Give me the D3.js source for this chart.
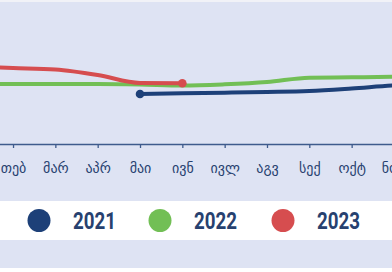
<!DOCTYPE html>
<html>
<head>
<meta charset="utf-8">
<script src="https://cdn.jsdelivr.net/npm/d3@7"></script>
<style>
  body { margin: 0; background: #fff; }
  svg { display: block; }
</style>
</head>
<body>
<svg></svg>
<script>
// chart data
const months = ['იან', 'თებ', 'მარ', 'აპრ', 'მაი', 'ივნ', 'ივლ', 'აგვ', 'სექ', 'ოქტ', 'ნოე', 'დეკ'];
const years = ['2021', '2022', '2023'];
const colors = ['#1d4078', '#72bf55', '#d64d4f'];

const vals2021 = [null, null, null, null, 2.5, 2.535, 2.565, 2.6, 2.65, 2.775, 2.925, 3.0];
const vals2022 = [3.0, 3.0, 3.0, 3.0, 2.975, 2.925, 2.985, 3.1, 3.315, 3.335, 3.365, 3.375];
const vals2023 = [3.875, 3.8, 3.725, 3.45, 3.05, 3.035, null, null, null, null, null, null];
const series = [vals2021, vals2022, vals2023];

const width = 392,
      height = 272;

const svg = d3.select('svg')
              .attr('width', width)
              .attr('height', height);

// backgrounds
svg.append('rect').attr('width', width).attr('height', height).attr('fill', '#dee3f3');
svg.append('rect').attr('width', width).attr('height', 2).attr('fill', '#f1f2f7');
svg.append('rect').attr('y', 201).attr('width', width).attr('height', 39).attr('fill', '#fff');
svg.append('rect').attr('y', 268).attr('width', width).attr('height', 4).attr('fill', '#fff');

// scales (view is a crop of the full year)
const x = d3.scalePoint()
            .domain(months)
            .range([-29.3, 436.3]);

const y = d3.scaleLinear()
            .domain([0, 7])
            .range([144, 4]);

// x axis
const xAxis = d3.axisBottom(x).tickSize(4).tickPadding(15);
const gx = svg.append('g')
   .attr('transform', 'translate(0,144)')
   .call(xAxis);
gx.select('.domain').attr('d', 'M0,0.5H' + width).attr('stroke', '#3e5b8c').attr('stroke-width', 1.3);
gx.selectAll('.tick line').attr('stroke', '#3e5b8c').attr('stroke-width', 1.3);
gx.selectAll('.tick text')
  .attr('fill', '#27416f')
  .attr('font-size', '14px')
  .attr('font-family', '"DejaVu Sans", sans-serif');

// lines
const line = d3.line()
               .defined(d => d != null)
               .x((d, i) => x(months[i]))
               .y(d => y(d))
               .curve(d3.curveMonotoneX);

// draw 2022 first, then 2021, then 2023 on top
[1, 0, 2].forEach(function(k) {
  svg.append('path')
     .attr('d', line(series[k]))
     .attr('fill', 'none')
     .attr('stroke', colors[k])
     .attr('stroke-width', 4)
     .attr('stroke-linecap', 'round');
});

// end dots: start of 2021, end of 2023
svg.append('circle')
   .attr('cx', x(months[4])).attr('cy', y(vals2021[4]))
   .attr('r', 4.3).attr('fill', colors[0]);
svg.append('circle')
   .attr('cx', x(months[5])).attr('cy', y(vals2023[5]))
   .attr('r', 4.3).attr('fill', colors[2]);

// legend
const legendX = [39, 160, 283];
const legend = svg.append('g').selectAll('g')
   .data(years)
   .enter()
   .append('g')
   .attr('transform', (d, i) => 'translate(' + legendX[i] + ',220.5)');

legend.append('circle')
   .attr('r', 11.5)
   .attr('fill', (d, i) => colors[i]);

legend.append('text')
   .attr('x', 34)
   .attr('y', 8.5)
   .attr('fill', '#27416f')
   .attr('font-size', '23px')
   .attr('font-weight', 'bold')
   .attr('font-family', 'Roboto, sans-serif')
   .attr('textLength', 43)
   .attr('lengthAdjust', 'spacingAndGlyphs')
   .text(d => d);
</script>
</body>
</html>
